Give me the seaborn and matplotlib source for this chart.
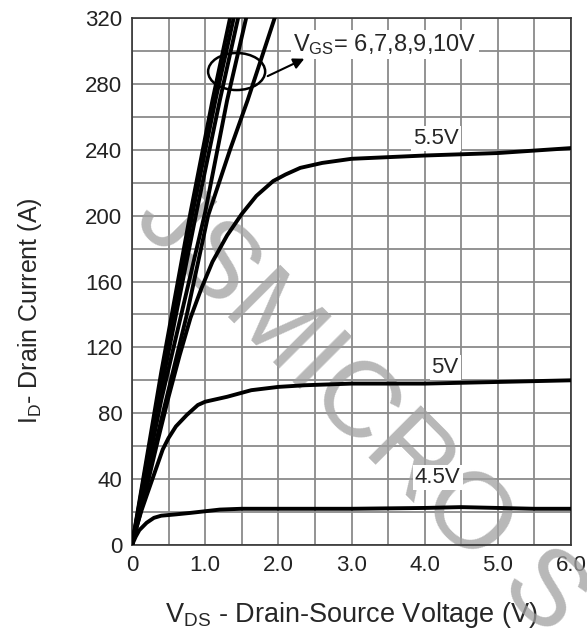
import matplotlib
matplotlib.use("Agg")
import matplotlib.pyplot as plt
from matplotlib.patches import Ellipse
from matplotlib.ticker import MultipleLocator
import seaborn as sns

# --- DATA ---
vds_45 = [0, 0.05, 0.1, 0.2, 0.3, 0.4, 0.6, 0.8, 1.0, 1.2, 1.5, 2.0, 3.0, 4.0, 4.5, 5.0, 5.5, 6.0]
id_45 = [0, 5, 9, 13.5, 16.5, 17.8, 18.6, 19.5, 20.5, 21.5, 22, 22, 22, 22.5, 23, 22.5, 22, 22]

vds_50 = [0, 0.05, 0.13, 0.2, 0.31, 0.42, 0.5, 0.6, 0.75, 0.9, 1.0, 1.3, 1.63, 2.0, 2.36, 3.0, 4.0, 5.0, 6.0]
id_50 = [0, 9, 21, 30, 44, 58, 65, 72, 79, 85, 87, 90, 94, 96, 97, 98, 98, 99, 100]

vds_55 = [0, 0.1, 0.2, 0.35, 0.5, 0.65, 0.8, 0.95, 1.1, 1.3, 1.5, 1.7, 1.93, 2.1, 2.3, 2.6, 3.0, 3.5, 4.0, 5.0, 6.0]
id_55 = [0, 17, 35, 63, 90, 115, 138, 156, 172, 188, 201, 212, 221, 225, 229, 232, 234.5, 235.5, 236.5, 238, 241]

vds_60 = [0, 0.4, 0.75, 1.04, 1.34, 1.58, 1.95, 2.1]
id_60 = [0, 76, 140, 200, 240, 270, 320, 340]

vds_70 = [0, 0.4, 1.0, 1.3, 1.56, 1.7]
id_70 = [0, 88, 202, 270, 320, 345]

vds_80 = [0, 0.4, 0.88, 1.2, 1.45, 1.6]
id_80 = [0, 95, 202, 270, 320, 350]

vds_90 = [0, 0.4, 0.83, 1.14, 1.39, 1.55]
id_90 = [0, 100, 202, 270, 320, 355]

vds_100 = [0, 0.4, 0.8, 1.1, 1.34, 1.5]
id_100 = [0, 105, 202, 270, 320, 350]

x_ticks = [0, 1, 2, 3, 4, 5, 6]
x_tick_labels = ['0', '1.0', '2.0', '3.0', '4.0', '5.0', '6.0']
y_ticks = [0, 40, 80, 120, 160, 200, 240, 280, 320]

curves = [
    (vds_45, id_45), (vds_50, id_50), (vds_55, id_55), (vds_60, id_60),
    (vds_70, id_70), (vds_80, id_80), (vds_90, id_90), (vds_100, id_100),
]

sns.set_theme(style="white")
plt.rcParams['font.family'] = ['Liberation Sans', 'DejaVu Sans']
plt.rcParams['mathtext.fontset'] = 'custom'
plt.rcParams['mathtext.rm'] = 'Liberation Sans'
plt.rcParams['mathtext.it'] = 'Liberation Sans:italic'

fig = plt.figure(figsize=(5.87, 6.35), dpi=100)
ax = fig.add_axes([132 / 587, 1 - 545 / 635, 439 / 587, 527 / 635])

# grid
ax.set_axisbelow(True)
ax.xaxis.set_major_locator(MultipleLocator(1))
ax.xaxis.set_minor_locator(MultipleLocator(0.5))
ax.yaxis.set_major_locator(MultipleLocator(40))
ax.yaxis.set_minor_locator(MultipleLocator(20))
ax.grid(True, which='both', color='#8a8a8a', lw=1.3)

# curves
for xs, ys in curves:
    sns.lineplot(x=xs, y=ys, ax=ax, color='black', lw=2.8, sort=False,
                 estimator=None, zorder=3)

ax.set_xlim(0, 6)
ax.set_ylim(0, 320)
ax.set_xticks(x_ticks)
ax.set_xticklabels(x_tick_labels)
ax.set_yticks(y_ticks)
ax.tick_params(axis='both', which='both', length=0, labelsize=16, pad=7,
               colors='#222222')
for sp in ax.spines.values():
    sp.set_color('#333333')
    sp.set_linewidth(1.2)

ax.set_xlabel(r"V$_{\mathrm{DS}}$ - Drain-Source Voltage (V)", fontsize=19.5)
ax.set_ylabel(r"I$_{\mathrm{D}}$- Drain Current (A)", fontsize=18)
ax.xaxis.set_label_coords(0.5, -0.105)
ax.yaxis.set_label_coords(-0.2, 0.445)

# curve labels
box = dict(facecolor='white', edgecolor='none', pad=1.5)
ax.text(4.15, 247, '5.5V', fontsize=16, ha='center', va='center', bbox=box, zorder=4)
ax.text(4.28, 108, '5V', fontsize=16, ha='center', va='center', bbox=box, zorder=4)
ax.text(4.18, 41, '4.5V', fontsize=16, ha='center', va='center', bbox=box, zorder=4)
ax.text(3.46, 304, r"V$_{\mathrm{GS}}$= 6,7,8,9,10V", fontsize=17, ha='center',
        va='center', bbox=box, zorder=4)

ax.add_patch(Ellipse((1.43, 287.5), 0.78, 22.5, fill=False, lw=1.8,
                     ec='black', zorder=4))
ax.annotate('', xy=(2.39, 296), xytext=(1.82, 284),
            arrowprops=dict(arrowstyle='-|>', color='black', lw=1.5,
                            mutation_scale=16), zorder=4)

# watermark
ax.text(152 / 587, 1 - 201 / 635, 'JSMICRO S', transform=fig.transFigure,
        fontsize=78, color='#a0a0a0', alpha=0.75, rotation=-45,
        rotation_mode='anchor', ha='left', va='center', zorder=1.5,
        clip_on=False)

fig.savefig('out.png', dpi=100)
